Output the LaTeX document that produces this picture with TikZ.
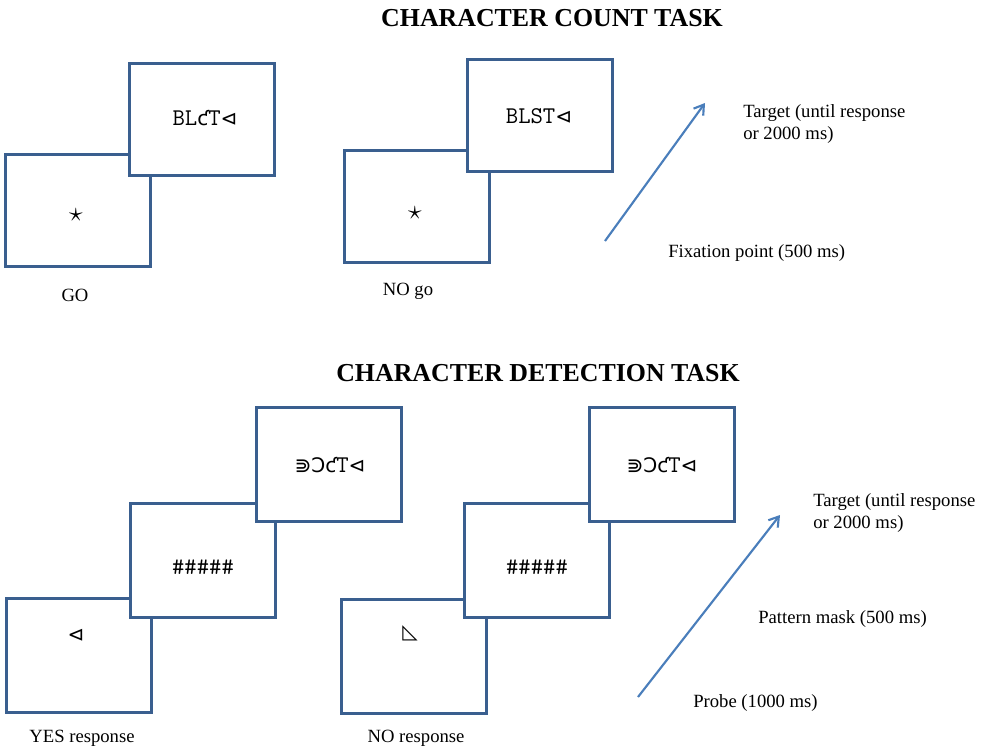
\documentclass[tikz,border=0pt]{standalone}
\usepackage{fontspec}
\setmainfont{Liberation Serif}
\newfontfamily\symf{DejaVu Sans}
\usetikzlibrary{arrows.meta}
\definecolor{boxblue}{HTML}{3A5F8F}
\definecolor{arrowblue}{HTML}{4A7EBB}
\newcommand{\sy}[1]{{\symf\fontsize{15}{17}\selectfont #1}}
\tikzset{
  box/.style={draw=boxblue, line width=2.25pt, fill=white, minimum width=108.75pt, minimum height=84pt, inner sep=0pt},
  boxb/.style={box, minimum height=85.5pt},
  stim/.style={font=\ttfamily\fontsize{18}{20}\selectfont, inner sep=0pt},
  lab/.style={font=\fontsize{14}{17}\selectfont, inner sep=0pt},
  ttl/.style={font=\fontsize{19.4}{23}\selectfont\bfseries, inner sep=0pt},
  flow/.style={draw=arrowblue, line width=1.6pt, -{Straight Barb[length=7pt,width=9pt,line width=1.6pt]}}
}
\begin{document}
\begin{tikzpicture}[x=0.75pt,y=-0.75pt]
\useasboundingbox (0,0) rectangle (986,751);
% Titles
\node[ttl] (t1) at (552,18) {CHARACTER COUNT TASK};
\node[ttl] (t2) at (538,373) {CHARACTER DETECTION TASK};
% Top row
\node[box] (A) at (77.5,210) {};
\node[box] (B) at (201.5,119) {};
\node[box] (C) at (416.5,206) {};
\node[box] (D) at (539.5,115) {};
\node[stim] (sA) at (76,215) {\fontsize{20}{20}\selectfont$\star$};
\node[stim] (sB) at (205,118) {BL\sy{ƈ}T\sy{⊲}};
\node[stim] (sC) at (415,213) {\fontsize{20}{20}\selectfont$\star$};
\node[stim] (sD) at (539,116) {BLST\sy{⊲}};
\node[lab] (go) at (75,295) {GO};
\node[lab] (nogo) at (408,291) {NO go};
\coordinate (a1s) at (605,241);
\coordinate (a1e) at (705,103);
\draw[flow] (a1s) -- (a1e);
\node[lab, anchor=north west, align=left] (tg1) at (743,104) {Target (until response\\or 2000 ms)};
\node[lab, anchor=west] (fx) at (668,253) {Fixation point (500 ms)};
% Bottom row
\node[boxb] (E) at (79,655) {};
\node[boxb] (F) at (203,560) {};
\node[boxb] (G) at (328.5,464.5) {};
\node[boxb] (H) at (413.5,656.5) {};
\node[boxb] (I) at (536.5,560.5) {};
\node[boxb] (J) at (661.5,464.5) {};
\node[stim] (sE) at (76,635) {\sy{⊲}};
\node[stim] (sF) at (203,567) {\#\#\#\#\#};
\node[stim] (sG) at (330,465) {\sy{⋑Ɔƈ}T\sy{⊲}};
\node[stim] (sH) at (410,633) {\sy{◺}};
\node[stim] (sI) at (537,567) {\#\#\#\#\#};
\node[stim] (sJ) at (662,465) {\sy{⋑Ɔƈ}T\sy{⊲}};
\node[lab] (yes) at (82,738) {YES response};
\node[lab] (no) at (416,738) {NO response};
\coordinate (a2s) at (638,697);
\coordinate (a2e) at (780,515);
\draw[flow] (a2s) -- (a2e);
\node[lab, anchor=north west, align=left] (tg2) at (813,493) {Target (until response\\or 2000 ms)};
\node[lab, anchor=west] (pm) at (758,619) {Pattern mask (500 ms)};
\node[lab, anchor=west] (pr) at (693,703) {Probe (1000 ms)};
\end{tikzpicture}
\end{document}
